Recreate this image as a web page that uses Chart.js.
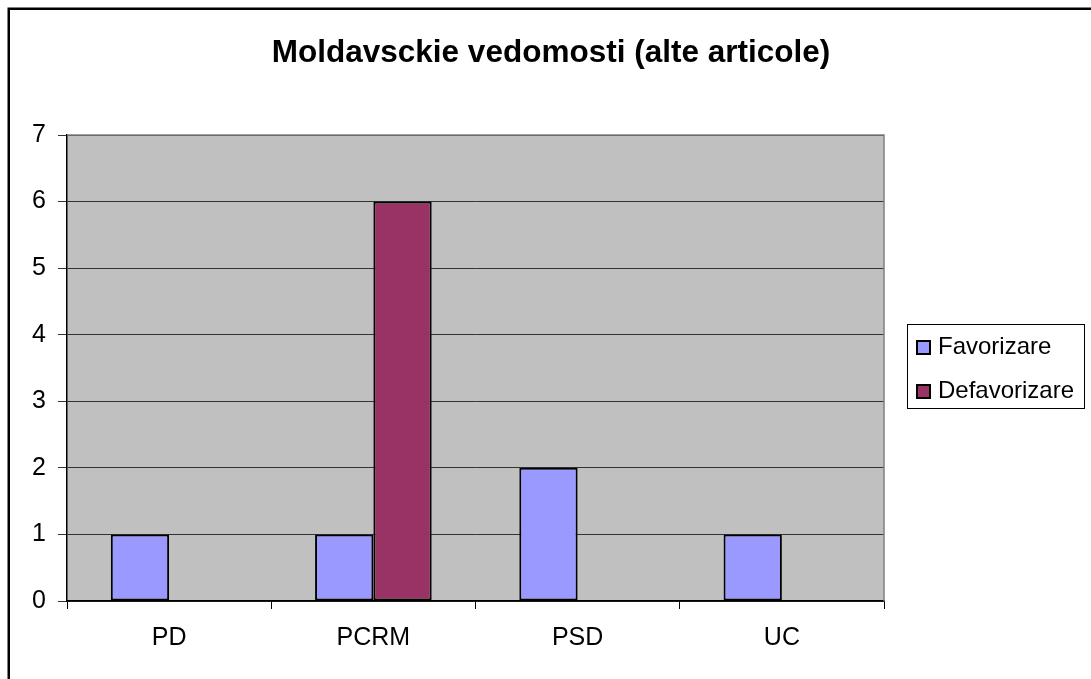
<!DOCTYPE html>
<html>
<head>
<meta charset="utf-8">
<script src="https://cdn.jsdelivr.net/npm/chart.js@4/dist/chart.umd.min.js"></script>
<style>
  html, body { margin: 0; padding: 0; background: #fff; }
  canvas { display: block; }
</style>
</head>
<body>
<canvas id="chart" width="1091" height="679"></canvas>
<script>
const categories = ['PD', 'PCRM', 'PSD', 'UC']
const seriesNames = ['Favorizare', 'Defavorizare']
const favorizare = [1, 1, 2, 1]
const defavorizare = [0, 6, 0, 0]
const yTicks = [0, 1, 2, 3, 4, 5, 6, 7]
const titleText = 'Moldavsckie vedomosti (alte articole)'

const colors = ['#9999FF', '#993366']
const fontFamily = '"Liberation Sans", Arial, sans-serif'

// white page, frame on top/left, grey plot area, title over whole width
const backgroundPlugin = {
  id: 'background',
  beforeDraw(chart) {
    const { ctx, chartArea } = chart
    ctx.save()
    ctx.fillStyle = '#fff'
    ctx.fillRect(0, 0, chart.width, chart.height)
    ctx.strokeStyle = '#000'
    ctx.lineWidth = 2.5
    ctx.beginPath()
    ctx.moveTo(8.75, chart.height)
    ctx.lineTo(8.75, 8.75)
    ctx.lineTo(chart.width, 8.75)
    ctx.stroke()
    ctx.fillStyle = '#C0C0C0'
    ctx.fillRect(chartArea.left, chartArea.top, chartArea.right - chartArea.left, chartArea.bottom - chartArea.top)

    ctx.fillStyle = '#000'
    ctx.font = 'bold 31.5px ' + fontFamily
    ctx.textAlign = 'center'
    ctx.textBaseline = 'middle'
    ctx.fillText(titleText, 551, 53)
    ctx.restore()
  },
  afterDraw(chart) {
    const { ctx, chartArea } = chart
    ctx.save()
    ctx.strokeStyle = '#808080'
    ctx.lineWidth = 1.5
    ctx.beginPath()
    ctx.moveTo(chartArea.left, chartArea.top)
    ctx.lineTo(chartArea.right, chartArea.top)
    ctx.lineTo(chartArea.right, chartArea.bottom)
    ctx.stroke()
    ctx.restore()
  }
}

// excel style legend with a box round it
const boxLegendPlugin = {
  id: 'boxLegend',
  afterDraw(chart) {
    const { ctx } = chart
    const box = { x: 907.5, y: 324.5, w: 177, h: 84 }
    ctx.save()
    ctx.strokeStyle = '#000'
    ctx.lineWidth = 1
    ctx.strokeRect(box.x, box.y, box.w, box.h)
    ctx.font = '24px ' + fontFamily
    ctx.textBaseline = 'middle'
    ctx.textAlign = 'left'
    chart.data.datasets.forEach((ds, i) => {
      const cy = 347 + i * 44
      ctx.fillStyle = ds.backgroundColor
      ctx.fillRect(917, cy - 6, 13, 13)
      ctx.lineWidth = 2
      ctx.strokeStyle = '#000'
      ctx.strokeRect(917, cy - 6, 13, 13)
      ctx.fillStyle = '#000'
      ctx.fillText(ds.label, 938, cy)
    })
    ctx.restore()
  }
}

const barBorder = ctx => (ctx.raw === 0 ? 0 : 2)

new Chart(document.querySelector('#chart'), {
  type: 'bar',
  data: {
    labels: categories,
    datasets: [
      { label: seriesNames[0], data: favorizare, backgroundColor: colors[0], borderColor: '#000', borderWidth: barBorder, borderSkipped: false },
      { label: seriesNames[1], data: defavorizare, backgroundColor: colors[1], borderColor: '#000', borderWidth: barBorder, borderSkipped: false }
    ]
  },
  options: {
    responsive: false,
    animation: false,
    events: [],
    categoryPercentage: 0.571,
    barPercentage: 1,
    layout: { padding: { left: 0, right: 207, top: 135, bottom: 0 } },
    plugins: {
      legend: { display: false },
      tooltip: { enabled: false },
      title: { display: false }
    },
    scales: {
      x: {
        grid: { drawOnChartArea: false, drawTicks: true, tickLength: 8, color: '#000', offset: true },
        border: { display: true, color: '#000', width: 1.5 },
        ticks: { color: '#000', font: { family: fontFamily, size: 25 }, padding: 14 },
        afterFit(scale) { scale.height = 78 }
      },
      y: {
        min: 0,
        max: 7,
        afterBuildTicks(scale) { scale.ticks = yTicks.map(v => ({ value: v })) },
        grid: { color: '#333', lineWidth: 1, tickLength: 9 },
        border: { display: true, color: '#000', width: 1.5 },
        ticks: { color: '#000', font: { family: fontFamily, size: 25 }, padding: 12 },
        afterFit(scale) { scale.width = 67 }
      }
    }
  },
  plugins: [backgroundPlugin, boxLegendPlugin]
})
</script>
</body>
</html>
